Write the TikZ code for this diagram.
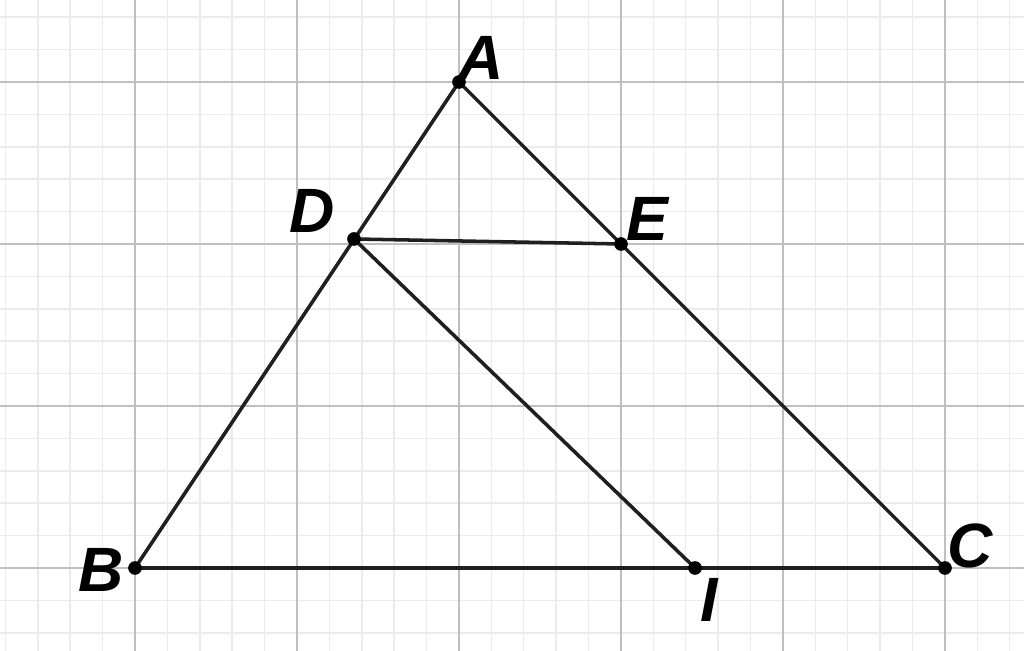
\documentclass[tikz,border=0pt]{standalone}
\usepackage{fontspec}
\setmainfont{Liberation Sans}
\begin{document}
\begin{tikzpicture}
\tikzset{
  minorgrid/.style={draw=black!8, line width=0.25pt},
  majorgrid/.style={draw=black!25, line width=0.4pt},
  seg/.style={draw=black!88, line width=0.62pt},
  pt/.style={circle, fill=black, inner sep=0pt, minimum size=2.4pt},
  lbl/.style={font=\fontsize{11}{13}\selectfont\bfseries\itshape, inner sep=0pt}
}
\useasboundingbox (-0.8333,-0.5123) rectangle (5.4877,3.5062);
\clip (-0.8333,-0.5123) rectangle (5.4877,3.5062);
\draw[minorgrid, step=0.2] (-1,-1) grid (6,4);
\draw[majorgrid, step=1] (-1,-1) grid (6,4);
\coordinate (A) at (2,3);
\coordinate (B) at (0,0);
\coordinate (C) at (5,0);
\coordinate (D) at (1.352,2.031);
\coordinate (E) at (3,2);
\coordinate (I) at (3.457,0);
\draw[seg] (A) -- (B) -- (C) -- cycle;
\draw[seg] (D) -- (E);
\draw[seg] (D) -- (I);
\foreach \p in {A,B,C,D,E,I} \node[pt] (p\p) at (\p) {};
\node[lbl] (lA) at (2.136,3.148) {A};
\node[lbl] (lB) at (-0.210,-0.012) {B};
\node[lbl] (lC) at (5.154,0.136) {C};
\node[lbl] (lD) at (1.093,2.204) {D};
\node[lbl] (lE) at (3.16,2.154) {E};
\node[lbl] (lI) at (3.543,-0.198) {I};
\end{tikzpicture}
\end{document}
